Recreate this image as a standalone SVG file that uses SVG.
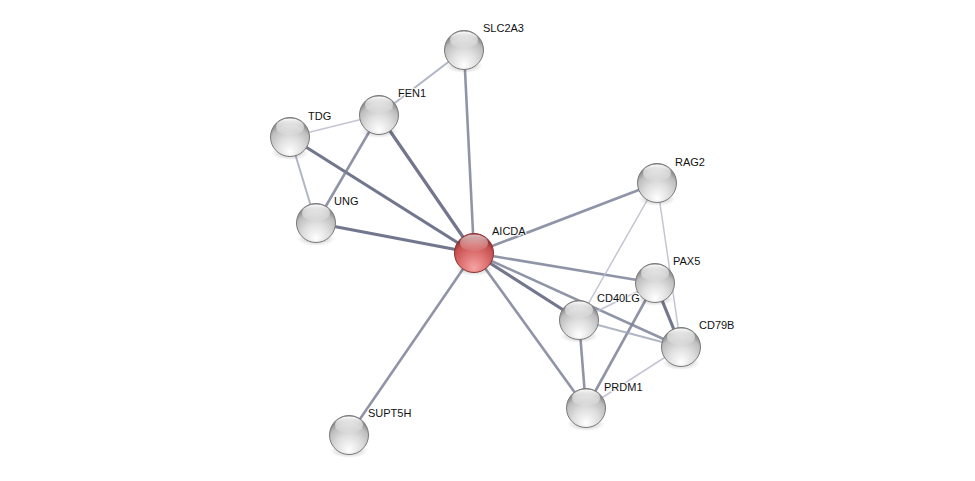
<svg xmlns="http://www.w3.org/2000/svg" width="975" height="481" viewBox="0 0 975 481">
<defs>
<radialGradient id="gGrey" cx="0.5" cy="0.75" r="0.65" fx="0.5" fy="0.9">
<stop offset="0" stop-color="#ffffff"/>
<stop offset="0.5" stop-color="#dedede"/>
<stop offset="0.85" stop-color="#bdbdbd"/>
<stop offset="1" stop-color="#8e8e8e"/>
</radialGradient>
<radialGradient id="gRed" cx="0.5" cy="0.75" r="0.65" fx="0.5" fy="0.9">
<stop offset="0" stop-color="#f6a4a4"/>
<stop offset="0.5" stop-color="#de7272"/>
<stop offset="0.85" stop-color="#c55050"/>
<stop offset="1" stop-color="#993535"/>
</radialGradient>
<linearGradient id="gShine" x1="0" y1="0" x2="0" y2="1">
<stop offset="0" stop-color="#ffffff" stop-opacity="0.95"/>
<stop offset="1" stop-color="#ffffff" stop-opacity="0.05"/>
</linearGradient>
<radialGradient id="gShadow" cx="0.5" cy="0.5" r="0.5">
<stop offset="0" stop-color="#000" stop-opacity="0.28"/>
<stop offset="1" stop-color="#000" stop-opacity="0"/>
</radialGradient>
</defs>
<style>
.e{fill:none;stroke-linecap:round}
.e1{stroke:#6c7088;stroke-width:3.2;stroke-opacity:0.95}
.e2{stroke:#7d8198;stroke-width:2.6;stroke-opacity:0.85}
.e3{stroke:#9ea2b6;stroke-width:2;stroke-opacity:0.8}
.e4{stroke:#b8bbcb;stroke-width:1.5;stroke-opacity:0.85}
.ball{stroke:#7a7a7a;stroke-width:1}
.grey{fill:url(#gGrey)}
.red{fill:url(#gRed);stroke:#8a3333}
.sh{fill:url(#gShadow)}
.shine{fill:url(#gShine)}
text{font-family:"Liberation Sans",Arial,sans-serif;font-size:11px;fill:#111;paint-order:stroke;stroke:#fff;stroke-width:2.5;stroke-opacity:0.8;stroke-linejoin:round}
</style>
<rect width="975" height="481" fill="#fff"/>
<g id="connectors">
<line class="e e2" x1="474" y1="253" x2="464" y2="50"/>
<line class="e e1" x1="474" y1="253" x2="379" y2="115"/>
<line class="e e1" x1="474" y1="253" x2="290" y2="137"/>
<line class="e e1" x1="474" y1="253" x2="316" y2="223"/>
<line class="e e2" x1="474" y1="253" x2="657" y2="183"/>
<line class="e e2" x1="474" y1="253" x2="655" y2="283"/>
<line class="e e1" x1="474" y1="253" x2="579" y2="320"/>
<line class="e e2" x1="474" y1="253" x2="681" y2="347"/>
<line class="e e2" x1="474" y1="253" x2="586" y2="408"/>
<line class="e e2" x1="474" y1="253" x2="349" y2="435"/>
<line class="e e3" x1="379" y1="115" x2="464" y2="50"/>
<line class="e e4" x1="379" y1="115" x2="290" y2="137"/>
<line class="e e2" x1="379" y1="115" x2="316" y2="223"/>
<line class="e e3" x1="290" y1="137" x2="316" y2="223"/>
<line class="e e4" x1="657" y1="183" x2="579" y2="320"/>
<line class="e e4" x1="657" y1="183" x2="681" y2="347"/>
<line class="e e1" x1="655" y1="283" x2="681" y2="347"/>
<line class="e e2" x1="655" y1="283" x2="586" y2="408"/>
<line class="e e4" x1="655" y1="283" x2="579" y2="320"/>
<line class="e e3" x1="579" y1="320" x2="681" y2="347"/>
<line class="e e2" x1="579" y1="320" x2="586" y2="408"/>
<line class="e e4" x1="681" y1="347" x2="586" y2="408"/>
</g>
<g id="SLC2A3"><ellipse class="sh" cx="464" cy="66" rx="19" ry="7"/><circle class="ball grey" cx="464" cy="50" r="19.5"/><ellipse class="shine" cx="464" cy="40" rx="14" ry="8.5"/><text x="483" y="32">SLC2A3</text></g>
<g id="FEN1"><ellipse class="sh" cx="379" cy="131" rx="19" ry="7"/><circle class="ball grey" cx="379" cy="115" r="19.5"/><ellipse class="shine" cx="379" cy="105" rx="14" ry="8.5"/><text x="398" y="97">FEN1</text></g>
<g id="TDG"><ellipse class="sh" cx="290" cy="153" rx="19" ry="7"/><circle class="ball grey" cx="290" cy="137" r="19.5"/><ellipse class="shine" cx="290" cy="127" rx="14" ry="8.5"/><text x="308" y="120">TDG</text></g>
<g id="UNG"><ellipse class="sh" cx="316" cy="239" rx="19" ry="7"/><circle class="ball grey" cx="316" cy="223" r="19.5"/><ellipse class="shine" cx="316" cy="213" rx="14" ry="8.5"/><text x="334" y="205">UNG</text></g>
<g id="AICDA"><ellipse class="sh" cx="474" cy="269" rx="19" ry="7"/><circle class="ball red" cx="474" cy="253" r="19.5"/><ellipse class="shine" cx="474" cy="243" rx="14" ry="8.5" opacity="0.7"/><text x="492" y="235">AICDA</text></g>
<g id="RAG2"><ellipse class="sh" cx="657" cy="199" rx="19" ry="7"/><circle class="ball grey" cx="657" cy="183" r="19.5"/><ellipse class="shine" cx="657" cy="173" rx="14" ry="8.5"/><text x="675" y="166">RAG2</text></g>
<g id="PAX5"><ellipse class="sh" cx="655" cy="299" rx="19" ry="7"/><circle class="ball grey" cx="655" cy="283" r="19.5"/><ellipse class="shine" cx="655" cy="273" rx="14" ry="8.5"/><text x="673" y="265">PAX5</text></g>
<g id="CD40LG"><ellipse class="sh" cx="579" cy="336" rx="19" ry="7"/><circle class="ball grey" cx="579" cy="320" r="19.5"/><ellipse class="shine" cx="579" cy="310" rx="14" ry="8.5"/><text x="597" y="302">CD40LG</text></g>
<g id="CD79B"><ellipse class="sh" cx="681" cy="363" rx="19" ry="7"/><circle class="ball grey" cx="681" cy="347" r="19.5"/><ellipse class="shine" cx="681" cy="337" rx="14" ry="8.5"/><text x="699" y="329">CD79B</text></g>
<g id="PRDM1"><ellipse class="sh" cx="586" cy="424" rx="19" ry="7"/><circle class="ball grey" cx="586" cy="408" r="19.5"/><ellipse class="shine" cx="586" cy="398" rx="14" ry="8.5"/><text x="604" y="391">PRDM1</text></g>
<g id="SUPT5H"><ellipse class="sh" cx="349" cy="451" rx="19" ry="7"/><circle class="ball grey" cx="349" cy="435" r="19.5"/><ellipse class="shine" cx="349" cy="425" rx="14" ry="8.5"/><text x="368" y="417">SUPT5H</text></g>
</svg>
